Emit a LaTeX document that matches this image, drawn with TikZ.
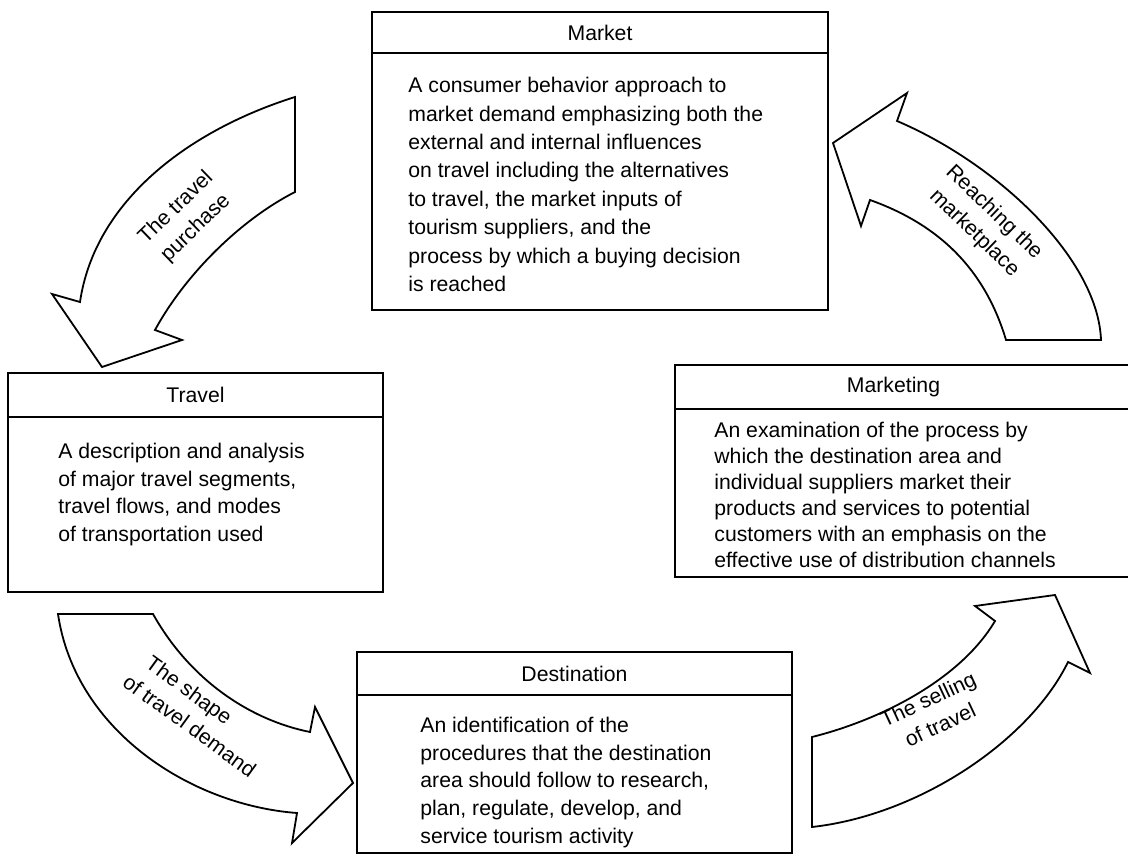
\documentclass[tikz,border=0pt]{standalone}
\usepackage{fontspec}
\setmainfont{Liberation Sans}
\usetikzlibrary{positioning}

\begin{document}
\begin{tikzpicture}[x=0.5pt,y=-0.5pt,
        titlebox/.style={draw=black, line width=0.8pt, rectangle, outer sep=0pt, inner sep=0pt, font=\fontsize{10.6}{13.8}\selectfont},
        bodybox/.style={draw=black, line width=0.8pt, rectangle, outer sep=0pt, inner sep=0pt},
        desc/.style={anchor=north west, align=left, inner sep=0pt, font=\fontsize{10.6}{#1}\selectfont},
        desc/.default=13.8pt,
        flow/.style={draw=black, line width=0.9pt, line join=miter, fill=white},
        flowlabel/.style={align=center, inner sep=0pt, font=\fontsize{10.6}{14.2}\selectfont}]
        \useasboundingbox (0,0) rectangle (1128,854);

        %market
        \node[titlebox, minimum width=228pt, minimum height=20.5pt] (markethd) at (600,32.5) {Market};
        \node[bodybox, minimum width=228pt, minimum height=128.5pt, below=0pt of markethd] (marketbd) {};
        \node[desc=14.2pt] (markettxt) at (408,77) {A consumer behavior approach to\\market demand emphasizing both the\\external and internal influences\\on travel including the alternatives\\to travel, the market inputs of\\tourism suppliers, and the\\process by which a buying decision\\is reached};

        %travel
        \node[titlebox, minimum width=187.5pt, minimum height=22pt] (travelhd) at (195.5,395) {Travel};
        \node[bodybox, minimum width=187.5pt, minimum height=87.5pt, below=0pt of travelhd] (travelbd) {};
        \node[desc] (traveltxt) at (58,443) {A description and analysis\\of major travel segments,\\travel flows, and modes\\of transportation used};

        %marketing (runs past the right edge)
        \node[titlebox, minimum width=232.5pt, minimum height=22pt, label={[font=\fontsize{10.6}{13.8}\selectfont, xshift=-7pt]center:Marketing}] (marketinghd) at (907.5,387) {};
        \node[bodybox, minimum width=232.5pt, minimum height=84pt, below=0pt of marketinghd] (marketingbd) {};
        \node[desc=13pt] (marketingtxt) at (714,422) {An examination of the process by\\which the destination area and\\individual suppliers market their\\products and services to potential\\customers with an emphasis on the\\effective use of distribution channels};

        %destination
        \node[titlebox, minimum width=217.5pt, minimum height=21.5pt] (desthd) at (574.5,673.5) {Destination};
        \node[bodybox, minimum width=217.5pt, minimum height=79pt, below=0pt of desthd] (destbd) {};
        \node[desc] (desttxt) at (420,717) {An identification of the\\procedures that the destination\\area should follow to research,\\plan, regulate, develop, and\\service tourism activity};

        %arrows
        \draw[flow] (295,97) .. controls (190,130) and (95,200) .. (80,302) -- (52,294) -- (102,367) -- (182,340) -- (155,330) .. controls (185,275) and (240,220) .. (295,192) -- cycle;
        \draw[flow] (833,143) -- (907,93) -- (897,121) .. controls (1000,165) and (1098,260) .. (1101,340) -- (1006,340) .. controls (985,270) and (940,225) .. (870,200) -- (861,226) -- cycle;
        \draw[flow] (58,614) -- (153,614) .. controls (190,680) and (250,720) .. (310,732) -- (315,707) -- (353,783) -- (292,843) -- (297,813) .. controls (190,805) and (75,730) .. (58,614) -- cycle;
        \draw[flow] (812,737) .. controls (880,720) and (960,680) .. (995,621) -- (975,606) -- (1055,595) -- (1090,673) -- (1068,662) .. controls (1030,740) and (920,815) .. (812,827) -- cycle;

        %arrow labels
        \node[flowlabel, rotate=44] (buylbl) at (186,218) {The travel\\purchase};
        \node[flowlabel, rotate=-44] (reachlbl) at (984,223) {Reaching the\\marketplace};
        \node[flowlabel, rotate=-36, align=left] (shapelbl) at (198,714) {\hspace{4pt}The shape\\of travel demand};
        \node[flowlabel, rotate=25] (selllbl) at (934,712) {The selling\\of travel};
    \end{tikzpicture}
\end{document}
